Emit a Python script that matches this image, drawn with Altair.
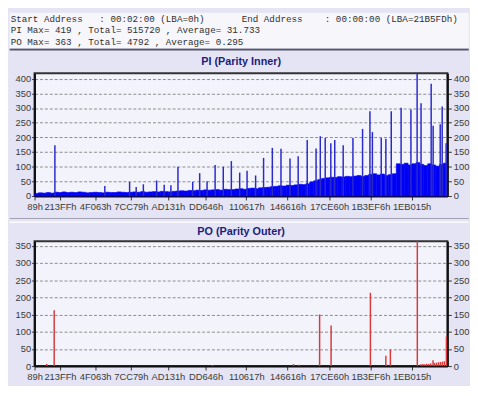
import altair as alt
import pandas as pd

# ---------------- data ----------------
header_1a = "Start Address   : 00:02:00 (LBA=0h)"
header_1b = "End Address    : 00:00:00 (LBA=21B5FDh)"
header_2 = "PI Max= 419 , Total= 515720 , Average= 31.733"
header_3 = "PO Max= 363 , Total= 4792 , Average= 0.295"
pi_title = "PI (Parity Inner)"
po_title = "PO (Parity Outer)"

# x axis ticks (scan position) and their LBA labels
tick_pos = [0, 25.9, 61.7, 98.0, 135.7, 174.0, 215.4, 257.4, 299.7, 341.7, 383.6]
tick_lbl = ["89h", "213FFh", "4F063h", "7CC79h", "AD131h", "DD646h",
            "110617h", "146616h", "17CE60h", "1B3EF6h", "1EB015h"]

# PI background level, one value per 4 position units (0..420)
pi_base = [
    9, 11, 10, 12, 10, 13, 12, 14, 12, 13,
    12, 14, 13, 11, 12, 13, 12, 11, 13, 12,
    12, 14, 13, 12, 13, 14, 13, 15, 13, 14,
    15, 14, 16, 15, 14, 16, 17, 18, 17, 19,
    18, 20, 19, 21, 20, 21, 22, 20, 23, 22,
    22, 24, 25, 23, 26, 27, 25, 28, 29, 30,
    32, 33, 35, 34, 37, 36, 38, 40, 39, 42,
    48, 52, 56, 60, 62,
    64, 63, 66, 65, 67, 66, 68, 70, 67, 70,
    74, 76, 72, 75, 70, 73, 76,
    110, 108, 112, 106, 110, 114, 108, 104, 110, 106, 102, 108, 112,
]
pi_step = 4

# PI spikes
pi_spike_pos = [20.7, 71.5, 96.7, 103.4, 110.7, 124.2, 131.9, 138.7, 145.9, 160.9,
                168.0, 175.5, 183.7, 192.0, 200.2, 208.7, 216.2, 224.9, 233.0, 241.9,
                250.7, 259.9, 268.2, 277.4, 286.4, 290.7, 295.7, 301.4, 305.4, 314.0,
                323.9, 333.7, 341.2, 343.7, 352.7, 357.4, 362.9, 372.9, 382.9, 389.2,
                393.2, 403.5, 405.5, 412.7, 414.7, 418.7]
pi_spike_val = [173, 34, 48, 31, 40, 53, 38, 37, 100, 48,
                78, 50, 106, 100, 119, 80, 86, 70, 130, 164,
                161, 128, 136, 191, 162, 204, 198, 180, 191, 173,
                198, 229, 289, 218, 198, 195, 289, 301, 295, 419,
                316, 383, 240, 245, 305, 180]

# PO values
po_pos = [12.4, 20.0, 181.0, 263.4, 269.0, 290.0, 301.7, 341.7, 357.4, 362.0, 389.4,
          393, 395, 397, 399, 401, 403, 405.4, 407, 409, 411, 413, 415, 417, 419]
po_val = [6, 162, 3, 6, 4, 150, 118, 213, 30, 48, 363,
          5, 6, 5, 7, 6, 8, 17, 9, 10, 11, 12, 13, 14, 86]

# ---------------- styling constants ----------------
W = 420
PI_H = 125
PO_H = 127
FONT = "Liberation Sans"
MONO = "Liberation Mono"
LBL = "#3a3a3a"
X_L, X_R = -25.3, 441.7
ONE = alt.Data(values=[{"k": 0}])

label_expr = ("[" + ",".join(f"'{s}'" for s in tick_lbl) + "][indexof(["
              + ",".join(str(p) for p in tick_pos) + "], datum.value)]")


def x_enc():
    return alt.X("pos:Q",
                 scale=alt.Scale(domain=[0, W], nice=False, zero=False),
                 axis=alt.Axis(values=tick_pos, labelExpr=label_expr, title=None,
                               labelFlush=False, labelOverlap=False, grid=False,
                               tickSize=4, tickColor="#333333", labelPadding=2,
                               domainColor="#111111", domainWidth=2,
                               labelFont=FONT, labelFontSize=9.5, labelColor=LBL))


def y_enc(domain, values, orient):
    left = orient == "left"
    return alt.Y("value:Q",
                 scale=alt.Scale(domain=domain, nice=False, zero=True),
                 axis=alt.Axis(orient=orient, values=values, title=None,
                               grid=left, gridDash=[3, 2], gridColor="#8c8c8c", gridWidth=1,
                               tickSize=3 if left else 4, labelPadding=1 if left else 2,
                               tickColor="#333333", domainColor="#111111", domainWidth=2,
                               labelFont=FONT, labelFontSize=9.5, labelColor=LBL))


def rect(y1, y2, color):
    return alt.Chart(ONE).mark_rect(color=color).encode(
        x=alt.value(X_L), x2=alt.value(X_R), y=alt.value(y1), y2=alt.value(y2))


def text(s, x, y, font, size, color, weight="normal", align="left"):
    return alt.Chart(ONE).mark_text(align=align, baseline="middle", font=font,
                                    fontSize=size, fontWeight=weight, color=color).encode(
        x=alt.value(x), y=alt.value(y), text=alt.value(s.replace(" ", "\u00a0")))


# ---------------- PI panel ----------------
pi_df = pd.DataFrame({"pos": [i * pi_step for i in range(len(pi_base))], "value": pi_base})
pi_df["pos2"] = pi_df["pos"] + pi_step
pi_sp = pd.DataFrame({"pos": pi_spike_pos, "value": pi_spike_val})

pi_dom = [0, 419]
pi_vals = list(range(0, 401, 50))

pi_base_layer = alt.Chart(pi_df).mark_rect(
    color="#0000f5", stroke="#0000f5", strokeWidth=0.6).encode(
    x=x_enc(), x2="pos2:Q", y=y_enc(pi_dom, pi_vals, "left"), y2=alt.datum(0))
pi_spike_layer = alt.Chart(pi_sp).mark_rule(color="#2a2ac8", strokeWidth=1.5).encode(
    x=x_enc(), y=y_enc(pi_dom, pi_vals, "right"), y2=alt.datum(0))

pi = alt.layer(
    rect(-61.5, -25.5, "#f7f7fb"),
    rect(-25.5, -24.5, "#b4b4c4"),
    rect(-24.5, -23.0, "#55556a"),
    pi_base_layer,
    pi_spike_layer,
    text(header_1a, -24.3, -55, MONO, 9.4, "#303030"),
    text(header_1b, 210.7, -55, MONO, 9.4, "#303030"),
    text(header_2, -24.3, -43.5, MONO, 9.4, "#303030"),
    text(header_3, -24.3, -32, MONO, 9.4, "#303030"),
    text(pi_title, 210.2, -11, FONT, 11, "#1c1c7c", "bold", "center"),
    rect(147.5, 148.5, "#8c8c9c"),
).resolve_axis(y="independent").properties(width=W, height=PI_H)

# ---------------- PO panel ----------------
po_df = pd.DataFrame({"pos": po_pos, "value": po_val})
po_dom = [0, 363]
po_vals = list(range(0, 351, 50))

po_left = alt.Chart(po_df).mark_rule(color="#d83a3a", strokeWidth=1.5).encode(
    x=x_enc(), y=y_enc(po_dom, po_vals, "left"), y2=alt.datum(0))
po_right = alt.Chart(po_df).mark_rule(color="#d83a3a", strokeWidth=1.5, opacity=0).encode(
    x=x_enc(), y=y_enc(po_dom, po_vals, "right"), y2=alt.datum(0))

po = alt.layer(
    rect(-20, -18.5, "#fbfbff"),
    po_left,
    po_right,
    text(po_title, 210.2, -9.5, FONT, 11, "#1c1c7c", "bold", "center"),
).resolve_axis(y="independent").properties(width=W, height=PO_H)

chart = alt.vconcat(pi, po, spacing=0).properties(
    background="#e4e4f4", padding=0
).configure_view(fill="#f3f3fc", stroke="#333333", strokeWidth=2)

chart.save("out.html", embed_options={"renderer": "svg", "actions": False})
